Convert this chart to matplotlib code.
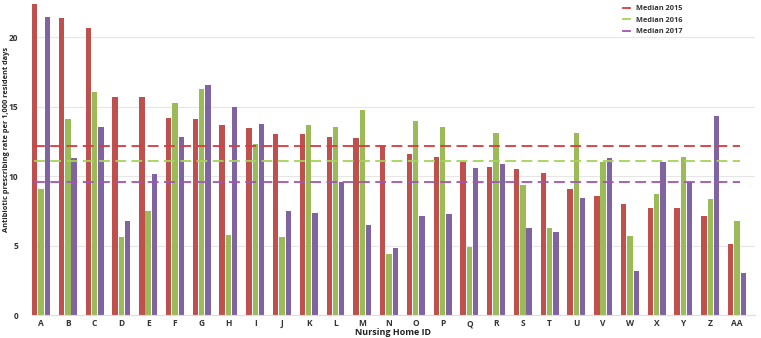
import matplotlib.pyplot as plt
import numpy as np

homes = ['A', 'B', 'C', 'D', 'E', 'F', 'G', 'H', 'I', 'J', 'K', 'L', 'M', 'N',
         'O', 'P', 'Q', 'R', 'S', 'T', 'U', 'V', 'W', 'X', 'Y', 'Z', 'AA']
rate_2015 = [22.4, 21.4, 20.7, 15.7, 15.7, 14.2, 14.1, 13.7, 13.5, 13.05, 13.05, 12.8, 12.75,
             12.2, 11.6, 11.4, 11.05, 10.7, 10.55, 10.2, 9.05, 8.6, 8.0, 7.7, 7.7, 7.15, 5.1]
rate_2016 = [9.1, 14.1, 16.1, 5.65, 7.5, 15.3, 16.3, 5.8, 12.3, 5.65, 13.7, 13.55, 14.8,
             4.4, 14.0, 13.55, 4.9, 13.15, 9.4, 6.25, 13.1, 11.05, 5.7, 8.75, 11.4, 8.35, 6.75]
rate_2017 = [21.45, 11.3, 13.55, 6.75, 10.15, 12.85, 16.6, 15.0, 13.8, 7.5, 7.35, 9.55, 6.5,
             4.8, 7.15, 7.3, 10.6, 10.85, 6.3, 6.0, 8.4, 11.3, 3.2, 11.0, 9.6, 14.35, 3.0]
median_2015 = 12.2
median_2016 = 11.1
median_2017 = 9.6

bar_colors = ['#C0504D', '#9BBB59', '#8064A2']
line_colors = ['#D8393F', '#A6D35A', '#A155B4']

plt.rcParams['font.family'] = ['Open Sans', 'DejaVu Sans']

fig = plt.figure(figsize=(7.61, 3.38), dpi=100)
ax = fig.add_axes([0.042, 0.068, 0.950, 0.932])

x = np.arange(len(homes))
w = 0.2
off = 0.235
ax.bar(x - off, rate_2015, w, color=bar_colors[0], zorder=2)
ax.bar(x, rate_2016, w, color=bar_colors[1], zorder=2)
ax.bar(x + off, rate_2017, w, color=bar_colors[2], zorder=2)

ax.hlines(median_2015, -0.25, 26.1, colors=line_colors[0], linestyles=(0, (6, 3)), lw=1.3, zorder=3, label='Median 2015')
ax.hlines(median_2016, -0.25, 26.1, colors=line_colors[1], linestyles=(0, (6, 3)), lw=1.3, zorder=3, label='Median 2016')
ax.hlines(median_2017, -0.25, 26.1, colors=line_colors[2], linestyles=(0, (6, 3)), lw=1.3, zorder=3, label='Median 2017')

ax.set_xlim(-0.34, 26.67)
ax.set_ylim(0, 22.7)
ax.set_yticks([0, 5, 10, 15, 20])
ax.set_xticks(x)
ax.set_xticklabels(homes, fontsize=6, fontweight='bold', color='#333333')
ax.tick_params(axis='y', labelsize=6, length=0, pad=10, labelcolor='#333333')
ax.tick_params(axis='x', length=0, pad=3)
for t in ax.get_yticklabels():
    t.set_fontweight('bold')
ax.grid(axis='y', color='#E6E6E6', lw=0.8, zorder=0)
for s in ['top', 'right', 'left']:
    ax.spines[s].set_visible(False)
ax.spines['bottom'].set_color('#DDDDDD')

ax.set_ylabel('Antibiotic prescribing rate per 1,000 resident days', fontsize=5.3,
              fontweight='bold', color='#222222')
ax.yaxis.set_label_coords(-0.031, 0.556)
ax.set_xlabel('Nursing Home ID', fontsize=6.5, fontweight='bold', labelpad=0, color='#222222')

leg = ax.legend(loc='upper left', bbox_to_anchor=(0.81, 1.0), frameon=False, fontsize=5.3,
                handlelength=1.0, labelspacing=0.6, borderaxespad=0.3)
for t in leg.get_texts():
    t.set_fontweight('bold')
    t.set_color('#333333')
for h in leg.get_lines():
    h.set_linestyle('-')

fig.savefig('out.png', dpi=100)
